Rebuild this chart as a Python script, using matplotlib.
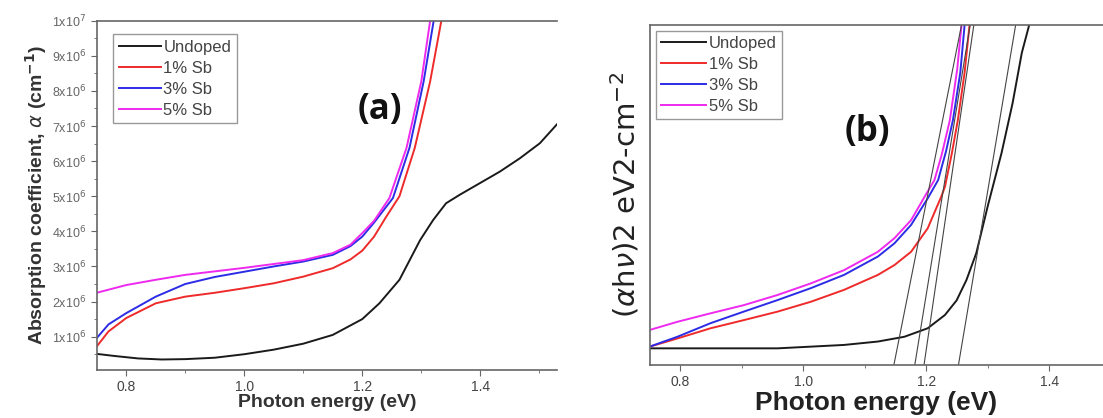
"""Absorption coefficient and Tauc plot for undoped and Sb-doped films."""

import matplotlib

matplotlib.use("Agg")
import matplotlib.pyplot as plt
from matplotlib.ticker import AutoMinorLocator, FixedLocator, FuncFormatter

plt.rcParams["font.family"] = ["Liberation Sans", "DejaVu Sans"]

labels = ["Undoped", "1% Sb", "3% Sb", "5% Sb"]
colors = ["#1a1a1a", "#ee2a2a", "#2c2ce6", "#ee2aee"]

# panel (a): absorption coefficient in units of 1e6 cm^-1
a_undoped_x = [0.75, 0.78, 0.82, 0.86, 0.9, 0.95, 1.0, 1.05, 1.1, 1.15, 1.2, 1.229,
               1.263, 1.298, 1.32, 1.342, 1.365, 1.399, 1.433, 1.467, 1.501, 1.53]
a_undoped_y = [0.51, 0.45, 0.38, 0.35, 0.36, 0.4, 0.5, 0.63, 0.8, 1.05, 1.5, 1.95,
               2.62, 3.75, 4.32, 4.8, 5.04, 5.37, 5.7, 6.08, 6.51, 7.05]
a_1sb_x = [0.75, 0.77, 0.8, 0.85, 0.9, 0.95, 1.0, 1.05, 1.1, 1.15, 1.18, 1.2, 1.22,
           1.24, 1.263, 1.289, 1.315, 1.334]
a_1sb_y = [0.72, 1.15, 1.53, 1.95, 2.14, 2.25, 2.38, 2.52, 2.71, 2.95, 3.2, 3.45,
           3.85, 4.4, 5.0, 6.38, 8.27, 10.0]
a_3sb_x = [0.75, 0.77, 0.8, 0.85, 0.9, 0.95, 1.0, 1.05, 1.1, 1.15, 1.18, 1.2, 1.22,
           1.252, 1.28, 1.304, 1.321]
a_3sb_y = [0.96, 1.35, 1.67, 2.14, 2.5, 2.7, 2.85, 3.0, 3.14, 3.33, 3.58, 3.85,
           4.25, 4.95, 6.38, 8.27, 10.0]
a_5sb_x = [0.75, 0.8, 0.85, 0.9, 0.95, 1.0, 1.05, 1.1, 1.15, 1.18, 1.2, 1.22, 1.246,
           1.275, 1.30, 1.315]
a_5sb_y = [2.25, 2.47, 2.62, 2.76, 2.86, 2.96, 3.07, 3.18, 3.38, 3.62, 3.95, 4.3,
           4.95, 6.38, 8.27, 10.0]

# panel (b): (alpha h nu)^2, arbitrary units
b_undoped_x = [0.75, 0.85, 0.958, 1.012, 1.066, 1.121, 1.164, 1.202, 1.23, 1.249,
               1.265, 1.281, 1.30, 1.322, 1.34, 1.355, 1.367]
b_undoped_y = [0.49, 0.49, 0.49, 0.54, 0.59, 0.69, 0.83, 1.08, 1.47, 1.9, 2.5,
               3.29, 4.7, 6.23, 7.7, 9.18, 10.0]
b_1sb_x = [0.75, 0.795, 0.849, 0.903, 0.958, 1.012, 1.066, 1.121, 1.148, 1.175,
           1.202, 1.224, 1.23, 1.241, 1.251, 1.262, 1.27]
b_1sb_y = [0.54, 0.78, 1.08, 1.32, 1.57, 1.86, 2.21, 2.65, 2.94, 3.33, 4.02, 4.95,
           5.24, 6.2, 7.2, 8.6, 10.0]
b_3sb_x = [0.75, 0.795, 0.849, 0.903, 0.958, 1.012, 1.066, 1.121, 1.148, 1.175,
           1.202, 1.219, 1.232, 1.243, 1.255, 1.262]
b_3sb_y = [0.54, 0.83, 1.23, 1.57, 1.91, 2.26, 2.65, 3.19, 3.58, 4.12, 4.9, 5.44,
           6.3, 7.2, 8.6, 10.0]
b_5sb_x = [0.75, 0.795, 0.849, 0.903, 0.958, 1.012, 1.066, 1.121, 1.148, 1.175,
           1.197, 1.213, 1.225, 1.238, 1.25, 1.257]
b_5sb_y = [1.03, 1.27, 1.52, 1.76, 2.06, 2.4, 2.79, 3.33, 3.73, 4.26, 4.95, 5.44,
           6.2, 7.2, 8.7, 10.0]

# linear fits used to read the band gap: energy at y=0 and at y=10
tangent_x_low = [1.147, 1.181, 1.196, 1.252]
tangent_x_high = [1.257, 1.271, 1.277, 1.345]
tangent_y = [0.0, 10.0]

x_ticks = [0.8, 1.0, 1.2, 1.4]
a_y_ticks = [1, 2, 3, 4, 5, 6, 7, 8, 9, 10]

TEXT = "#333333"
SPINE = "#666666"
PANEL_FONT = ["Open Sans", "DejaVu Sans"]


def style_axes(ax, tick_size):
    for side in ["left", "bottom", "top"]:
        ax.spines[side].set_color(SPINE)
        ax.spines[side].set_linewidth(1.2)
    ax.spines["right"].set_visible(False)
    ax.xaxis.set_major_locator(FixedLocator(x_ticks))
    ax.xaxis.set_minor_locator(AutoMinorLocator(2))
    ax.tick_params(axis="x", which="both", direction="out", colors=SPINE,
                   labelcolor="#444444", labelsize=tick_size, top=False)
    ax.tick_params(axis="x", which="major", length=4)
    ax.tick_params(axis="x", which="minor", length=2)


def style_legend(leg):
    leg.get_frame().set_edgecolor("#999999")
    leg.get_frame().set_linewidth(1.0)
    for t in leg.get_texts():
        t.set_color("#444444")


fig = plt.figure(figsize=(11.03, 4.18), dpi=100)

# ---- panel (a)
ax1 = fig.add_axes([0.0877, 0.1148, 0.4173, 0.8357])
series_a = [(a_undoped_x, a_undoped_y), (a_1sb_x, a_1sb_y),
            (a_3sb_x, a_3sb_y), (a_5sb_x, a_5sb_y)]
for (xs, ys), c, lab in zip(series_a, colors, labels):
    ax1.plot(xs, [v * 1e6 for v in ys], color=c, lw=1.4, label=lab)
ax1.set_xlim(0.75, 1.53)
ax1.set_ylim(0.05e6, 1e7)
style_axes(ax1, 10)
ax1.yaxis.set_major_locator(FixedLocator([v * 1e6 for v in a_y_ticks]))
ax1.yaxis.set_minor_locator(AutoMinorLocator(2))


def sci_label(v, pos):
    n = round(v / 1e6)
    if n == 10:
        return r"1x10$^{7}$"
    return rf"{n}x10$^{{6}}$"


ax1.yaxis.set_major_formatter(FuncFormatter(sci_label))
ax1.tick_params(axis="y", which="both", direction="out", colors=SPINE,
                labelcolor="#666666", labelsize=9)
ax1.tick_params(axis="y", which="major", length=4)
ax1.tick_params(axis="y", which="minor", length=2)
ax1.set_xlabel("Photon energy (eV)", fontsize=14, fontweight="bold",
               color=TEXT, labelpad=0)
ax1.set_ylabel(r"Absorption coefficient, $\alpha$ (cm$^{\mathbf{-1}}$)",
               fontsize=14, fontweight="bold", color=TEXT, labelpad=2)
ax1.text(0.615, 0.743, "(a)", transform=ax1.transAxes, fontsize=25,
         fontweight="bold", family=PANEL_FONT, color="#111111",
         ha="center", va="center")
leg1 = ax1.legend(loc="upper left", bbox_to_anchor=(0.018, 0.985), fontsize=12,
                  handlelength=2.5, handletextpad=0.15, labelspacing=0.35,
                  borderpad=0.35, fancybox=False, framealpha=1)
style_legend(leg1)

# ---- panel (b)
ax2 = fig.add_axes([0.589, 0.1268, 0.411, 0.8134])
series_b = [(b_undoped_x, b_undoped_y), (b_1sb_x, b_1sb_y),
            (b_3sb_x, b_3sb_y), (b_5sb_x, b_5sb_y)]
for (xs, ys), c, lab in zip(series_b, colors, labels):
    ax2.plot(xs, ys, color=c, lw=1.4, label=lab)
for x0, x1 in zip(tangent_x_low, tangent_x_high):
    ax2.plot([x0, x1], tangent_y, color="#444444", lw=0.8)
ax2.set_xlim(0.75, 1.487)
ax2.set_ylim(0, 10)
style_axes(ax2, 10)
ax2.set_yticks([])
ax2.set_xlabel("Photon energy (eV)", fontsize=19, fontweight="bold",
               color="#222222", labelpad=1)
ax2.set_ylabel(r"($\alpha$h$\nu$)2 eV2-cm$^{-2}$", fontsize=21,
               family=["DejaVu Sans"], color="#222222", labelpad=6)
ax2.text(0.481, 0.685, "(b)", transform=ax2.transAxes, fontsize=25,
         fontweight="bold", family=PANEL_FONT, color="#111111",
         ha="center", va="center")
leg2 = ax2.legend(loc="upper left", bbox_to_anchor=(-0.004, 1.006), fontsize=12,
                  handlelength=2.7, handletextpad=0.15, labelspacing=0.35,
                  borderpad=0.3, fancybox=False, framealpha=1)
style_legend(leg2)

fig.savefig("out.png", dpi=100)
